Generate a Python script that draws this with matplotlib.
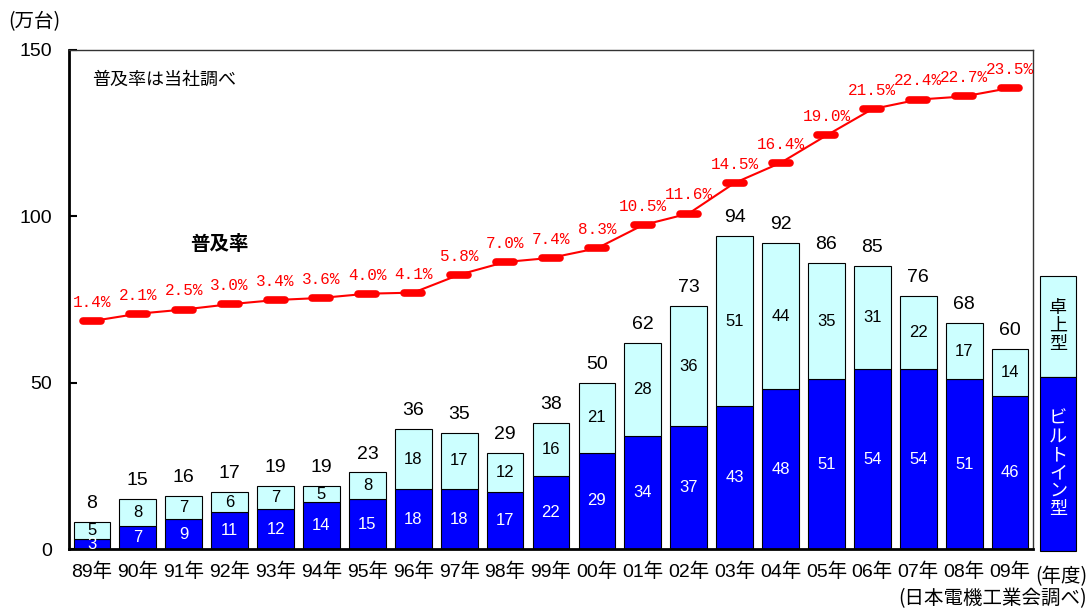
import matplotlib
matplotlib.use("Agg")
import matplotlib.pyplot as plt
from matplotlib.markers import MarkerStyle
from matplotlib.patches import Rectangle
import numpy as np

years = ["89年", "90年", "91年", "92年", "93年", "94年", "95年", "96年", "97年", "98年",
         "99年", "00年", "01年", "02年", "03年", "04年", "05年", "06年", "07年", "08年", "09年"]
builtin = [3, 7, 9, 11, 12, 14, 15, 18, 18, 17, 22, 29, 34, 37, 43, 48, 51, 54, 54, 51, 46]
desktop = [5, 8, 7, 6, 7, 5, 8, 18, 17, 12, 16, 21, 28, 36, 51, 44, 35, 31, 22, 17, 14]
rate = [1.4, 2.1, 2.5, 3.0, 3.4, 3.6, 4.0, 4.1, 5.8, 7.0, 7.4, 8.3, 10.5, 11.6, 14.5,
        16.4, 19.0, 21.5, 22.4, 22.7, 23.5]
yticks = [0, 50, 100, 150]

JP = ["Noto Sans CJK JP", "DejaVu Sans"]
NUM = ["Liberation Sans", "Noto Sans CJK JP", "DejaVu Sans"]
plt.rcParams['font.family'] = JP

BLUE = "#0000FF"
CYAN = "#CCFFFF"
RED = "#FF0000"

fig = plt.figure(figsize=(10.89, 6.10), dpi=100)
ax = fig.add_axes([69/1089, 1-549/610, (1033-69)/1089, (549-50)/610])

x = np.arange(len(years))
ax.bar(x, builtin, width=0.8, color=BLUE, edgecolor="black", linewidth=0.8, zorder=2)
ax.bar(x, desktop, bottom=builtin, width=0.8, color=CYAN, edgecolor="black", linewidth=0.8, zorder=2)

for i in range(len(years)):
    b, d = builtin[i], desktop[i]
    ax.text(x[i], b/2, str(b), ha="center", va="center", color="white", fontsize=12, family=NUM, zorder=3)
    ax.text(x[i], b + d/2, str(d), ha="center", va="center", color="black", fontsize=12, family=NUM, zorder=3)
    ax.text(x[i], b + d + 3, str(b + d), ha="center", va="bottom", color="black", fontsize=14, family=NUM, zorder=3)

ax.set_xlim(-0.5, len(years) - 0.5)
ax.set_ylim(0, 150)
ax.set_yticks(yticks)
ax.set_yticklabels([str(v) for v in yticks], family=NUM, fontsize=14)
ax.set_xticks(x)
ax.set_xticklabels(years, family=NUM, fontsize=14)
ax.tick_params(axis="x", length=0, pad=10)
ax.tick_params(axis="y", direction="in", length=6, width=1.5, pad=12)
for s in ["left", "bottom"]:
    ax.spines[s].set_linewidth(2)
for s in ["top", "right"]:
    ax.spines[s].set_linewidth(1)
    ax.spines[s].set_color("#333333")

ax2 = ax.twinx()
ax2.set_ylim(-20.2, 27.1)
ax2.axis("off")
ms = MarkerStyle("_", capstyle="round")
ax2.plot(x, rate, color=RED, lw=1.5, marker=ms, markersize=13, markeredgewidth=5.5,
         markeredgecolor=RED, zorder=4)
for i, r in enumerate(rate):
    ax2.annotate(f"{r:.1f}%", (x[i], r), xytext=(0, 8), textcoords="offset points",
                 ha="center", va="bottom", color=RED, fontsize=11.5,
                 family=["Liberation Mono", "DejaVu Sans Mono"])

fig.text(92/1089, 1-80/610, "普及率は当社調べ", fontsize=13, va="center", ha="left")
fig.text(190/1089, 1-245/610, "普及率", fontsize=14, fontweight="bold", va="center", ha="left")
fig.text(8/1089, 1-22/610, "(万台)", fontsize=14, va="center", ha="left")
fig.text(1087/1089, 1-577/610, "(年度)", fontsize=14, va="center", ha="right")
fig.text(1087/1089, 1-599/610, "(日本電機工業会調べ)", fontsize=14, va="center", ha="right")

# legend box
fig.patches.append(Rectangle((1040/1089, 1-377/610), 36/1089, 101/610, transform=fig.transFigure,
                             facecolor=CYAN, edgecolor="black", linewidth=0.8))
fig.patches.append(Rectangle((1040/1089, 1-551/610), 36/1089, 174/610, transform=fig.transFigure,
                             facecolor=BLUE, edgecolor="black", linewidth=0.8))
fig.text(1058/1089, 1-326/610, "\n".join("卓上型"), fontsize=13, va="center", ha="center",
         color="black", linespacing=1.0)
fig.text(1058/1089, 1-464/610, "\n".join("ビルトイン型"), fontsize=13, va="center", ha="center",
         color="white", linespacing=1.0)

fig.savefig("out.png", dpi=100)
